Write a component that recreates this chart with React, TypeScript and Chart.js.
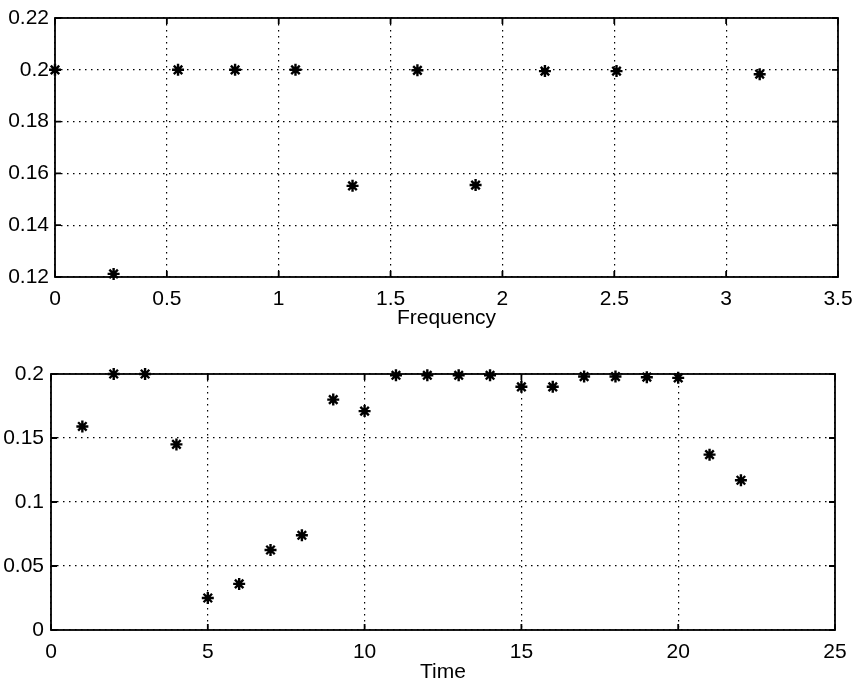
import React, { useEffect, useRef } from "react";
import { Chart, registerables } from "chart.js";

Chart.register(...registerables);

// Top plot: frequency domain
const freqX = [0, 0.262, 0.55, 0.805, 1.075, 1.33, 1.62, 1.88, 2.19, 2.51, 3.15];
const freqY = [0.2, 0.1212, 0.2, 0.2, 0.2, 0.1552, 0.1998, 0.1555, 0.1995, 0.1995, 0.1983];

// Bottom plot: time domain
const timeX = [1, 2, 3, 4, 5, 6, 7, 8, 9, 10, 11, 12, 13, 14, 15, 16, 17, 18, 19, 20, 21, 22];
const timeY = [0.159, 0.2, 0.2, 0.145, 0.025, 0.036, 0.0625, 0.074, 0.18, 0.171, 0.199, 0.199, 0.199, 0.199, 0.19, 0.19, 0.198, 0.198, 0.1975, 0.197, 0.137, 0.117];

const FONT = { family: "'Liberation Sans', Arial, sans-serif", size: 21 };

const framePlugin = {
  id: "frame",
  afterDraw(chart: any) {
    const { ctx, chartArea: a, scales } = chart;
    ctx.save();
    ctx.strokeStyle = "#000";
    ctx.lineWidth = 1.8;
    ctx.strokeRect(a.left, a.top, a.right - a.left, a.bottom - a.top);
    const L = 6;
    ctx.beginPath();
    scales.x.ticks.forEach((t: any) => {
      const p = scales.x.getPixelForValue(t.value);
      ctx.moveTo(p, a.bottom);
      ctx.lineTo(p, a.bottom - L);
      ctx.moveTo(p, a.top);
      ctx.lineTo(p, a.top + L);
    });
    scales.y.ticks.forEach((t: any) => {
      const p = scales.y.getPixelForValue(t.value);
      ctx.moveTo(a.left, p);
      ctx.lineTo(a.left + L, p);
      ctx.moveTo(a.right, p);
      ctx.lineTo(a.right - L, p);
    });
    ctx.stroke();
    ctx.restore();
  },
};

function fmt(v: number) {
  return String(Math.round(v * 1000) / 1000);
}

function makeConfig(
  xs: number[],
  ys: number[],
  xr: [number, number, number],
  yr: [number, number, number],
  xTitle: string,
  pad: { left: number; right: number; top: number },
  yWidth: number,
  xHeight: number,
  titlePadBottom: number,
  xTickPad: number,
  yTickPad: number
): any {
  return {
    type: "scatter",
    data: {
      datasets: [
        {
          data: xs.map((x, i) => ({ x, y: ys[i] })),
          pointStyle: "star",
          pointRadius: 6,
          borderColor: "#000",
          backgroundColor: "#000",
          borderWidth: 2.4,
          clip: false,
        },
      ],
    },
    options: {
      responsive: false,
      animation: false,
      layout: { padding: { left: pad.left, right: pad.right, top: pad.top, bottom: 0 } },
      plugins: { legend: { display: false }, tooltip: { enabled: false } },
      scales: {
        x: {
          type: "linear",
          min: xr[0],
          max: xr[1],
          ticks: {
            stepSize: xr[2],
            color: "#000",
            font: FONT,
            padding: xTickPad,
            maxRotation: 0,
            callback: (v: number) => fmt(v),
          },
          grid: { color: "#000", lineWidth: 1.2, drawTicks: false, tickLength: 0 },
          border: { display: false, dash: [1.5, 4.5] },
          title: { display: true, text: xTitle, color: "#000", font: FONT, padding: { top: 0, bottom: titlePadBottom } },
          afterFit: (s: any) => {
            s.height = xHeight;
            s.paddingLeft = 0;
            s.paddingRight = 0;
          },
        },
        y: {
          type: "linear",
          min: yr[0],
          max: yr[1],
          ticks: {
            stepSize: yr[2],
            color: "#000",
            font: FONT,
            padding: yTickPad,
            callback: (v: number) => fmt(v),
          },
          grid: { color: "#000", lineWidth: 1.2, drawTicks: false, tickLength: 0 },
          border: { display: false, dash: [1.5, 4.5] },
          afterFit: (s: any) => {
            s.width = yWidth;
            s.paddingTop = 0;
            s.paddingBottom = 0;
          },
        },
      },
    },
    plugins: [framePlugin],
  };
}

export default function App() {
  const topRef = useRef<HTMLCanvasElement>(null);
  const botRef = useRef<HTMLCanvasElement>(null);

  useEffect(() => {
    const c1 = new Chart(
      topRef.current as HTMLCanvasElement,
      makeConfig(freqX, freqY, [0, 3.5, 0.5], [0.12, 0.22, 0.02], "Frequency", { left: 0, right: 17, top: 18 }, 55, 66, 12.4, 9.5, 6)
    );
    const c2 = new Chart(
      botRef.current as HTMLCanvasElement,
      makeConfig(timeX, timeY, [0, 25, 5], [0, 0.2, 0.05], "Time", { left: 0, right: 20, top: 31 }, 51, 56, 1.4, 9.5, 7)
    );
    return () => {
      c1.destroy();
      c2.destroy();
    };
  }, []);

  return (
    <div style={{ position: "absolute", left: 0, top: 0, width: 855, height: 686, background: "#fff" }}>
      <canvas ref={topRef} width={855} height={343} style={{ display: "block", width: 855, height: 343 }} />
      <canvas ref={botRef} width={855} height={343} style={{ display: "block", width: 855, height: 343 }} />
    </div>
  );
}
